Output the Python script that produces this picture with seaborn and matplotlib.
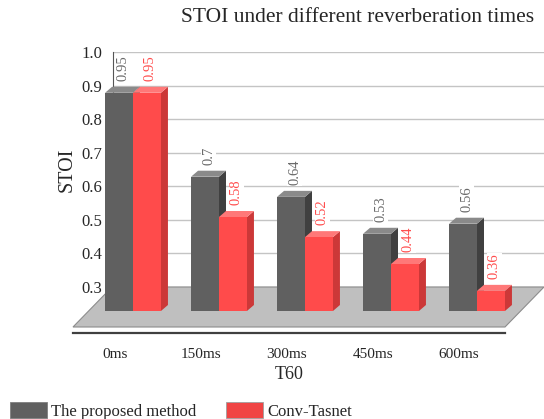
import numpy as np
import pandas as pd
import matplotlib
matplotlib.use('Agg')
import matplotlib.pyplot as plt
import matplotlib.patches as mpatches
from matplotlib.patches import Polygon
import seaborn as sns

sns.set_style('white')
plt.rcParams['font.family'] = ['Liberation Serif', 'DejaVu Serif']

# data
t60 = ['0ms', '150ms', '300ms', '450ms', '600ms']
proposed = [0.95, 0.70, 0.64, 0.53, 0.56]
conv_tasnet = [0.95, 0.58, 0.52, 0.44, 0.36]
methods = ['The proposed method', 'Conv-Tasnet']
y_ticks = [0.3, 0.4, 0.5, 0.6, 0.7, 0.8, 0.9, 1.0]

df = pd.DataFrame({
    'T60': t60 * 2,
    'STOI': proposed + conv_tasnet,
    'method': [methods[0]] * len(t60) + [methods[1]] * len(t60),
})

front_cols = ['#606060', '#ff4b4b']
top_cols = ['#8a8a8a', '#ff7878']
side_cols = ['#404040', '#cc3838']
label_cols = ['#6a6a6a', '#ff4d4d']

W, H = 544, 419
fig = plt.figure(figsize=(W / 100, H / 100), dpi=100)

def frac(l, t, r, b):
    return [l / W, 1 - b / H, (r - l) / W, (b - t) / H]

# back wall with gridlines and value axis
wall = fig.add_axes(frac(113, 52, 544, 287))
wall.set_ylim(0.3, 1.0)
wall.set_xlim(0, 1)
wall.set_xticks([])
wall.set_yticks(y_ticks, [f'{t:.1f}' for t in y_ticks], fontsize=12)
for t in y_ticks:
    wall.axhline(t, color='#c4c4c4', lw=1)
for s in ['top', 'right', 'bottom']:
    wall.spines[s].set_visible(False)
wall.spines['left'].set_color('#555555')
wall.tick_params(axis='y', direction='out', length=5, width=1, color='#555555', pad=3)
wall.set_ylabel('STOI', fontsize=14.5, labelpad=3)

# front layer with the bars (seaborn)
ax = fig.add_axes(frac(73, 76, 505, 311))
ax.patch.set_alpha(0)
sns.barplot(data=df, x='T60', y='STOI', hue='method', hue_order=methods,
            palette=front_cols, width=0.65, saturation=1, linewidth=0,
            legend=False, ax=ax, zorder=2)
ax.set_ylim(0.3, 1.0)
ax.set_xlim((73 - 133) / 86, (505 - 133) / 86)

px_x = 86.0
px_y = 235 / 0.7
dxd, dyd = 7 / px_x, 6 / px_y
gap = 6 / px_y

# floor
y_front = 0.3 - 16 / px_y
y_back = 0.3 + 24 / px_y
floor = Polygon([((73 - 133) / px_x, y_front), ((505 - 133) / px_x, y_front),
                 ((544 - 133) / px_x, y_back), ((112 - 133) / px_x, y_back)],
                closed=True, facecolor='#bfbfbf', edgecolor='#8c8c8c', lw=0.8,
                clip_on=False, zorder=0.5)
ax.add_patch(floor)

bars = list(ax.patches)[:-1]
n = len(t60)
for i, p in enumerate(bars):
    k = i // n
    x0, w, v = p.get_x(), p.get_width(), p.get_height()
    x1 = x0 + w
    top = Polygon([(x0, v), (x1, v), (x1 + dxd, v + dyd), (x0 + dxd, v + dyd)],
                  closed=True, facecolor=top_cols[k], edgecolor='none',
                  clip_on=False, zorder=1.5)
    side = Polygon([(x1, 0.3), (x1 + dxd, 0.3 + dyd), (x1 + dxd, v + dyd), (x1, v)],
                   closed=True, facecolor=side_cols[k], edgecolor='none',
                   clip_on=False, zorder=1.5)
    ax.add_patch(side)
    ax.add_patch(top)
    ax.text(x0 + w / 2 + dxd / 2, v + dyd + gap, f'{v:g}', rotation=90,
            ha='center', va='bottom', fontsize=10.5, color=label_cols[k],
            bbox=dict(facecolor='white', edgecolor='none', pad=0.5),
            clip_on=False, zorder=3)

ax.set_yticks([])
ax.set_ylabel('')
for s in ['top', 'right', 'left']:
    ax.spines[s].set_visible(False)
ax.spines['bottom'].set_position(('outward', 16))
ax.spines['bottom'].set_color('#404040')
ax.spines['bottom'].set_linewidth(1.6)
ax.set_xticks(np.arange(n) - 0.21, t60, fontsize=11)
ax.tick_params(axis='x', direction='out', length=5, width=1.2, color='#404040', pad=6)
ax.set_xlabel('T60', fontsize=13, labelpad=3)

fig.text(358 / W, 1 - 18 / H, 'STOI under different reverberation times',
         ha='center', va='center', fontsize=15.5)

handles = [mpatches.Patch(facecolor=front_cols[0], edgecolor='#7f7f7f', lw=0.6),
           mpatches.Patch(facecolor='#f04444', edgecolor='#9f9f9f', lw=0.6)]
fig.legend(handles, methods, loc='center left', bbox_to_anchor=(10 / W, 1 - 411 / H),
           ncol=2, frameon=False, fontsize=12, handlelength=2.2, handleheight=1.1,
           handletextpad=0.25, columnspacing=1.8, borderpad=0, borderaxespad=0)

fig.savefig('out.png', dpi=100)
